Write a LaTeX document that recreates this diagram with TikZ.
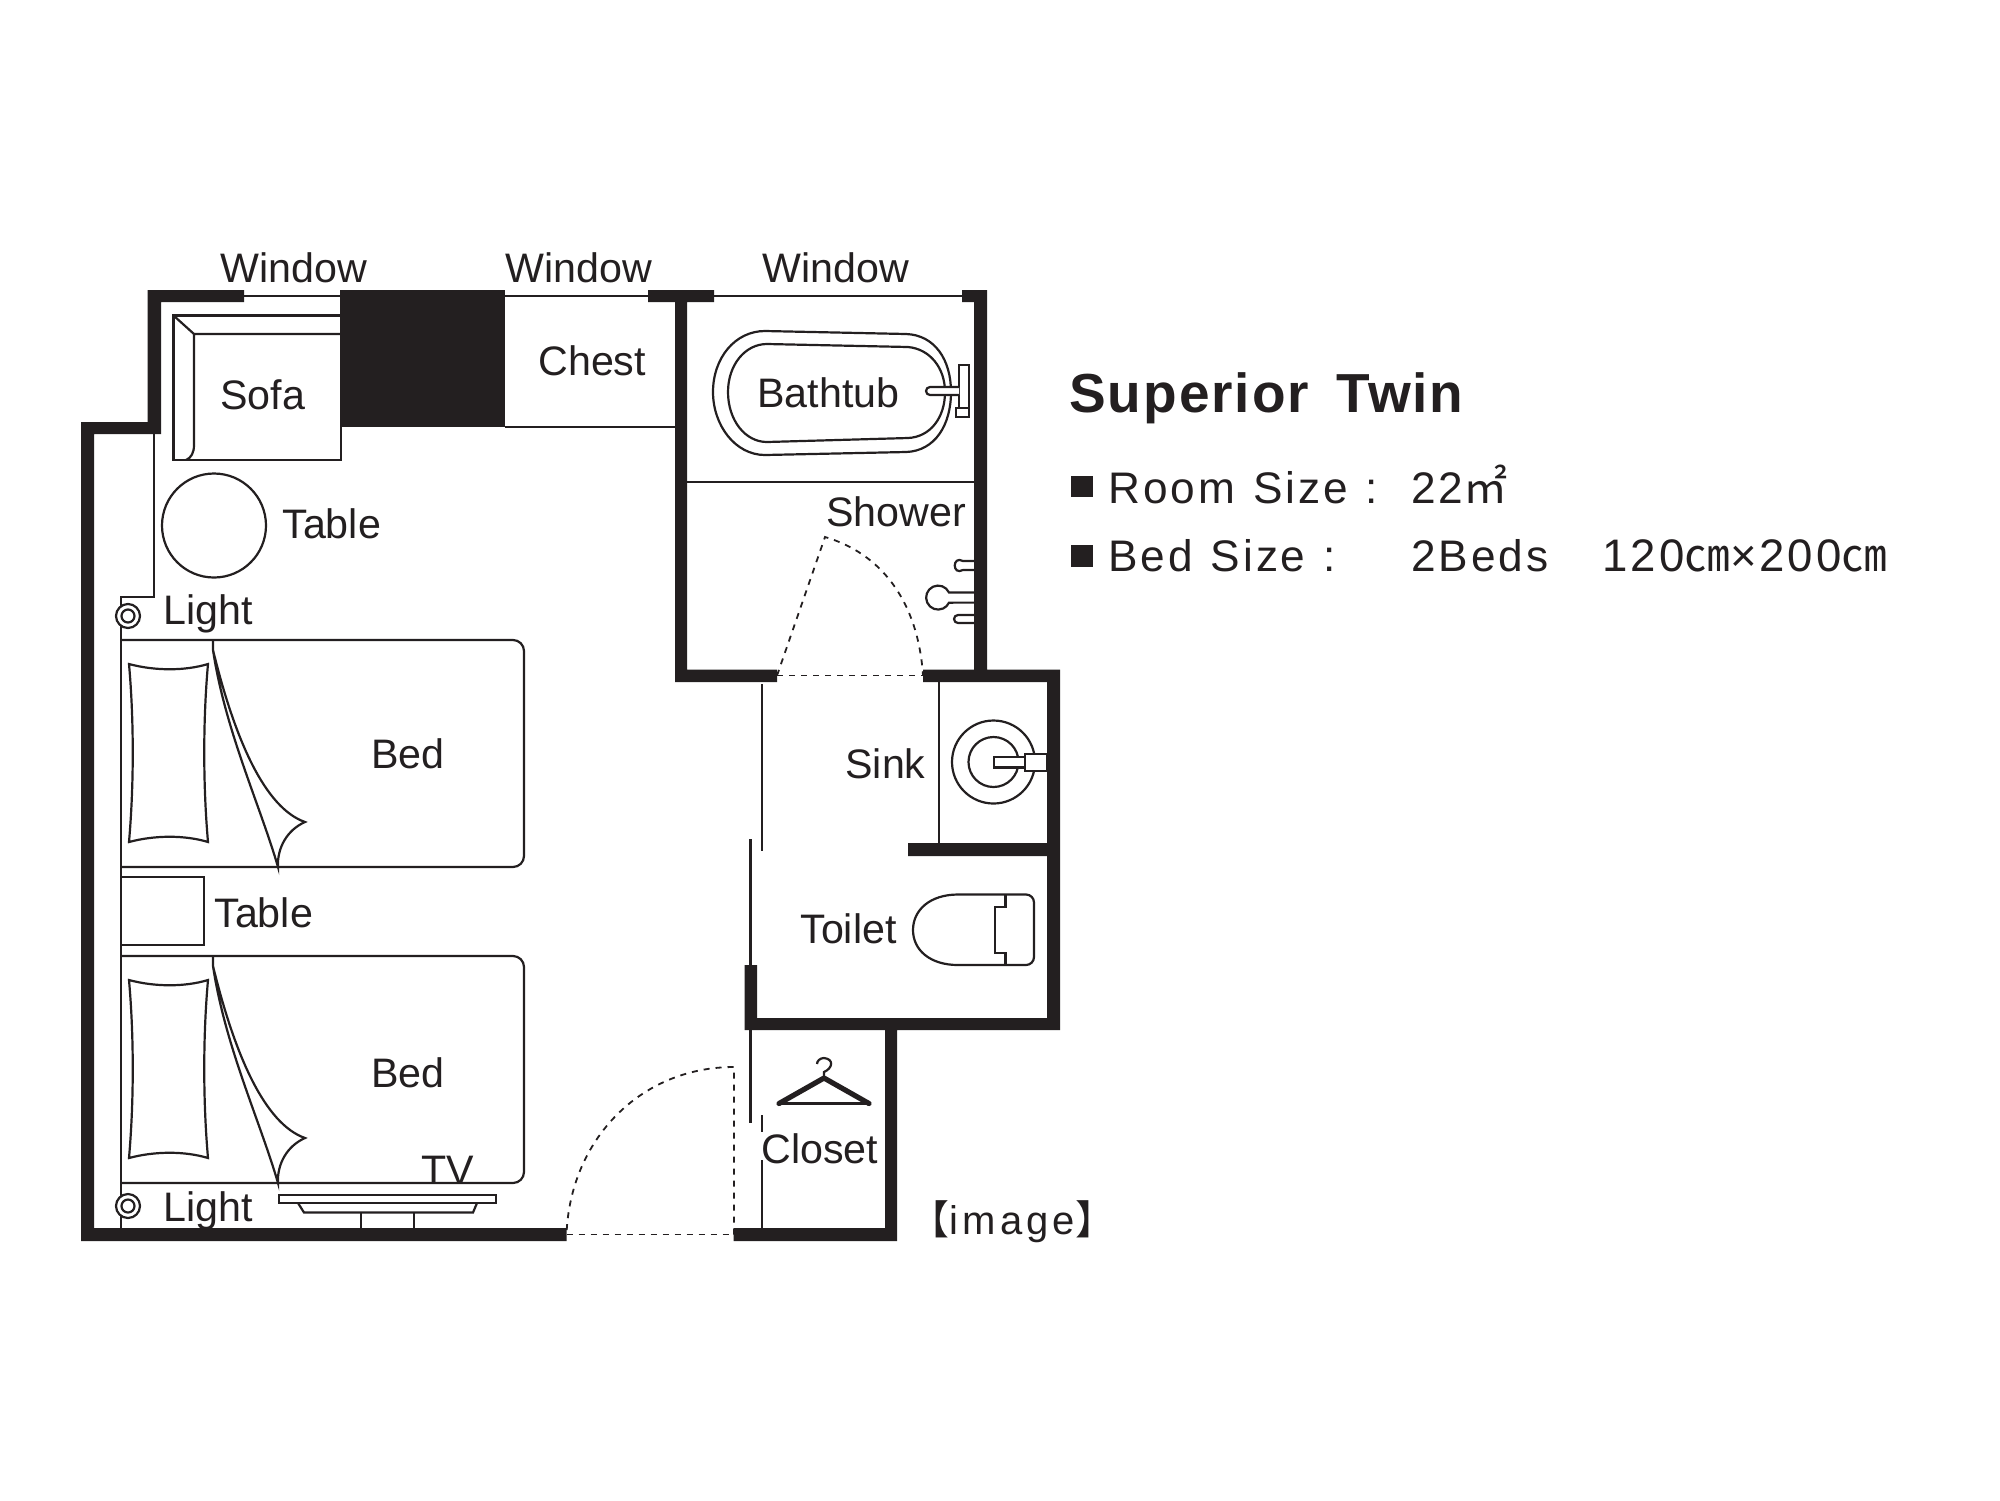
\documentclass[tikz,border=0pt]{standalone}
\usepackage{fontspec}
\setmainfont{Liberation Sans}
\newfontfamily\spacedfont[LetterSpace=6.5,WordSpace=1.2]{Liberation Sans}
\newfontfamily\imagefont[LetterSpace=10.5]{Liberation Sans}
\newfontfamily\titlefont[LetterSpace=3.5,WordSpace=1.6]{Liberation Sans}
\newfontfamily\cjk{Noto Sans CJK JP}
\usetikzlibrary{positioning}

\definecolor{wallink}{HTML}{231F20}
\tikzset{
    wall/.style={fill=wallink,draw=none},
    thin line/.style={draw=wallink,line width=1.1pt},
    door line/.style={draw=wallink,line width=.9pt,dash pattern=on 3pt off 3pt},
    label/.style={inner sep=0pt,anchor=base west,text=wallink,font=\fontsize{20.6}{24}\selectfont},
    info/.style={inner sep=0pt,anchor=base west,text=wallink,font=\spacedfont\fontsize{22.1}{26}\selectfont},
}
\newcommand{\bedshape}[1]{%
    \draw[thin line] (121,#1) -- (513,#1) arc[start angle=-90,end angle=0,radius=11] -- (524,#1+216) arc[start angle=0,end angle=90,radius=11] -- (121,#1+227);
    \draw[thin line] (129,#1+24) .. controls (155,#1+31) and (185,#1+31) .. (208,#1+24) .. controls (203,#1+80) and (203,#1+145) .. (208,#1+202) .. controls (185,#1+195) and (155,#1+195) .. (129,#1+202) .. controls (134,#1+145) and (134,#1+80) .. (129,#1+24) -- cycle;
    \draw[thin line] (213,#1) -- (213,#1+10) .. controls (225,#1+90) and (260,#1+165) .. (278,#1+227) .. controls (277,#1+208) and (287,#1+190) .. (305,#1+182) .. controls (265,#1+168) and (235,#1+100) .. (213,#1+10);
}

\begin{document}
\begin{tikzpicture}[x=.5pt,y=-.5pt]
    \useasboundingbox (0,0) rectangle (2000,1500);

    % outer walls
    \fill[wall] (81,422) -- (147.5,422) -- (147.5,290) -- (244,290) -- (244,302) -- (161,302) -- (161,434) -- (94,434) -- (94,1228) -- (566.5,1228) -- (566.5,1241) -- (81,1241) -- cycle;
    \fill[wall] (340,290) rectangle (505,427);
    \fill[wall] (648,290) -- (714,290) -- (714,302) -- (687,302) -- (687,669.5) -- (777,669.5) -- (777,682) -- (675,682) -- (675,302) -- (648,302) -- cycle;
    \fill[wall] (962,290) -- (987,290) -- (987,669.5) -- (1060,669.5) -- (1060,1030) -- (897,1030) -- (897,1241) -- (733.5,1241) -- (733.5,1228) -- (885,1228) -- (885,1030) -- (744.5,1030) -- (744.5,965) -- (757,965) -- (757,1018) -- (1047,1018) -- (1047,856) -- (908,856) -- (908,843) -- (1047,843) -- (1047,682) -- (923,682) -- (923,669.5) -- (974,669.5) -- (974,302) -- (962,302) -- cycle;

    % window lines and thin partitions
    \coordinate (winA) at (244,296);
    \coordinate (winB) at (340,296);
    \coordinate (winC) at (505,296);
    \coordinate (winD) at (648,296);
    \coordinate (winE) at (714,296);
    \coordinate (winF) at (962,296);
    \draw[thin line] (winA) -- (winB);
    \draw[thin line] (winC) -- (winD);
    \draw[thin line] (winE) -- (winF);
    \draw[thin line] (505,427) -- (675,427);
    \draw[thin line] (687,482) -- (974,482);
    \draw[thin line] (154,434) -- (154,597) -- (121,597) -- (121,1228);
    \draw[thin line] (939,682) -- (939,843);
    \draw[thin line] (762,684) -- (762,851);
    \draw[thin line] (750.5,839) -- (750.5,965);
    \draw[thin line] (750.5,1030) -- (750.5,1123);
    \draw[thin line] (762,1115) -- (762,1132);
    \draw[thin line] (762,1160) -- (762,1228);

    % doors
    \draw[door line] (777,675.5) -- (923,675.5);
    \draw[door line] (777,675.5) -- (825,537) .. controls (880,553) and (918,600) .. (923,675.5);
    \draw[door line] (566.5,1234.5) -- (733.5,1234.5);
    \draw[door line] (734,1234.5) -- (734,1067) .. controls (640,1067) and (570,1140) .. (566.5,1234.5);

    % sofa
    \draw[thin line] (340,315.5) -- (173.5,315.5) -- (173.5,460) -- (341,460) -- (341,427);
    \draw[thin line] (340,334) -- (194,334) -- (194,445) .. controls (194,453) and (191,458) .. (186,460);
    \draw[thin line] (173.5,315.5) -- (194,334);
    \node[label] (sofa) at (220,409) {Sofa};

    % round table and small table
    \draw[thin line] (214,525.5) circle[radius=52];
    \node[label] (tableA) at (282,538) {Table};
    \draw[thin line] (121,877) -- (204,877) -- (204,945) -- (121,945);
    \node[label] (tableB) at (214,927) {Table};

    % lights
    \draw[thin line,fill=white] (128,616) circle[radius=12];
    \draw[thin line] (128,616) circle[radius=6.5];
    \node[label] (lightA) at (163,624) {Light};
    \draw[thin line,fill=white] (128,1206) circle[radius=12];
    \draw[thin line] (128,1206) circle[radius=6.5];
    \node[label] (lightB) at (163,1221) {Light};

    % beds
    \bedshape{640}
    \bedshape{956}
    \node[label] (bedA) at (371,768) {Bed};
    \node[label] (bedB) at (371,1087) {Bed};

    % tv
    \draw[thin line] (279,1195) rectangle (496,1203);
    \draw[thin line] (298,1203) -- (304,1212.5) -- (473,1212.5) -- (477,1203);
    \draw[thin line] (361,1212.5) -- (361,1228);
    \draw[thin line] (414,1212.5) -- (414,1228);
    \node[label] (tv) at (421,1184) {TV};

    % bathtub
    \draw[thin line] (765,331) -- (906,334) .. controls (935,335) and (951,360) .. (951,392) .. controls (951,425) and (935,451) .. (906,452) -- (765,455) .. controls (735,455) and (713,425) .. (713,392) .. controls (713,358) and (735,331) .. (765,331) -- cycle;
    \draw[thin line] (767,344) -- (908,347) .. controls (930,349) and (945,368) .. (945,392) .. controls (945,418) and (930,437) .. (908,438) -- (767,442) .. controls (745,442) and (728,420) .. (728,392) .. controls (728,365) and (745,344) .. (767,344) -- cycle;
    \draw[thin line,fill=white] (959,365) rectangle (969,408);
    \draw[thin line,fill=white] (956,408) rectangle (969,417);
    \draw[thin line,fill=white] (959,387) -- (930,387) arc[start angle=-90,end angle=-270,radius=4] -- (959,395);
    \node[label] (bathtub) at (757,407) {Bathtub};
    \node[label] (shower) at (826,526) {Shower};

    % shower fixtures
    \draw[thin line] (974,561) -- (963,561) .. controls (952,555) and (952,576) .. (963,570) -- (974,570);
    \draw[thin line] (974,592.5) -- (949,592.5) arc[start angle=-25,end angle=-335,radius=12] -- (974,602.6);
    \draw[thin line] (974,615) -- (958,615) arc[start angle=-90,end angle=-270,radius=4] -- (974,623);

    % sink
    \draw[thin line] (993.5,762) circle[radius=41.5];
    \draw[thin line] (993.5,762) circle[radius=25];
    \draw[thin line,fill=white] (994,757) rectangle (1025,767.5);
    \draw[thin line,fill=white] (1025,754) rectangle (1047,771);
    \node[label] (sink) at (845,778) {Sink};

    % toilet
    \draw[thin line] (958,894.5) -- (1026,894.5) arc[start angle=-90,end angle=0,radius=8] -- (1034,957) arc[start angle=0,end angle=90,radius=8] -- (958,965) .. controls (930,965) and (913,950) .. (913,930) .. controls (913,910) and (930,894.5) .. (958,894.5) -- cycle;
    \draw[thin line] (1005.5,894.5) -- (1005.5,907) -- (995,907) -- (995,953) -- (1005.5,953) -- (1005.5,965);
    \node[label] (toilet) at (800,943) {Toilet};

    % closet and hanger
    \draw[thin line] (780,1103.5) -- (868,1103.5);
    \draw[wallink,line width=2.6pt,line cap=round,line join=round] (779,1103.5) -- (824,1078) -- (869,1103.5);
    \draw[wallink,line width=1.1pt] (824,1078) -- (824,1072) .. controls (833,1068) and (834,1059) .. (824,1058) .. controls (820,1058) and (817,1061) .. (817,1064);
    \node[label] (closet) at (761,1163) {Closet};

    % labels on the windows
    \node[label] (windowA) at (220,282) {Window};
    \node[label] (windowB) at (505,282) {Window};
    \node[label] (windowC) at (762,282) {Window};
    \node[label] (chest) at (538,375) {Chest};

    % text block
    \node[inner sep=0pt,anchor=base west,text=wallink,font=\titlefont\bfseries\fontsize{27.5}{32}\selectfont] (title) at (1069,412) {Superior Twin};
    \fill[wall] (1071,476) rectangle (1093,497);
    \fill[wall] (1071,545) rectangle (1093,567);
    \node[info] (room) at (1108,503) {Room Size :};
    \node[info] (roomval) at (1411,503) {22{\cjk ㎡}};
    \node[info] (bed) at (1108,571.5) {Bed Size :};
    \node[info] (bedval) at (1411,571.5) {2Beds};
    \node[info,font=\spacedfont\fontsize{22.8}{26}\selectfont] (bedsize) at (1602,571.5) {120{\cjk ㎝}×200{\cjk ㎝}};
    \node[inner sep=0pt,anchor=base west,text=wallink,font=\imagefont\fontsize{20}{24}\selectfont] (image) at (909,1234) {{\cjk 【}image{\cjk 】}};
\end{tikzpicture}
\end{document}
